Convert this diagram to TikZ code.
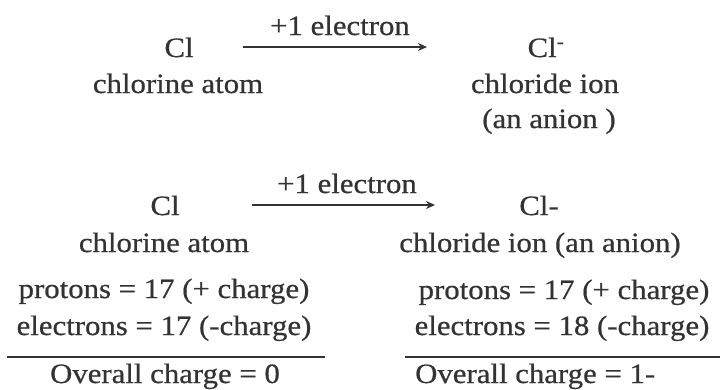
\documentclass[tikz,border=0pt]{standalone}
\usepackage{fontspec}
\setmainfont{Liberation Serif}[FakeStretch=1.1,FakeBold=0.6]
\usetikzlibrary{arrows.meta}
\definecolor{ink}{HTML}{333333}

\begin{document}
\begin{tikzpicture}[x=1pt,y=1pt,
    every node/.style={font=\fontsize{28}{33}\selectfont,text=ink,inner sep=0pt,anchor=base},
    rxn/.style={-{Stealth[length=9pt,width=8pt]},line width=2pt,draw=ink},
    rule/.style={line width=1.8pt,draw=ink}]
    \useasboundingbox (0,0) rectangle (720,-389);
    % upper scheme
    \node (clA) at (179,-57) {Cl};
    \node (atomA) at (178,-93) {chlorine atom};
    \node (ionA) at (546,-57) {Cl\textsuperscript{-}};
    \node (ionnameA) at (545,-93) {chloride ion};
    \node (anionA) at (549,-128) {(an anion )};
    \coordinate (arAs) at (243,-47);
    \coordinate (arAe) at (427,-47);
    \draw[rxn] (arAs) -- (arAe);
    \node (gainA) at (340,-35) {+1 electron};
    % lower scheme
    \node (clB) at (165,-215) {Cl};
    \node (atomB) at (164,-252) {chlorine atom};
    \node (ionB) at (539,-215) {Cl-};
    \node (ionnameB) at (540,-252) {chloride ion (an anion)};
    \coordinate (arBs) at (252,-205);
    \coordinate (arBe) at (435,-205);
    \draw[rxn] (arBs) -- (arBe);
    \node (gainB) at (347,-193) {+1 electron};
    % charge count, atom
    \node (protA) at (164,-298) {protons = 17 (+ charge)};
    \node (elecA) at (164,-335) {electrons = 17 (-charge)};
    \coordinate (ruleAs) at (7,-357);
    \coordinate (ruleAe) at (325,-357);
    \draw[rule] (ruleAs) -- (ruleAe);
    \node (totA) at (165,-383) {Overall charge = 0};
    % charge count, ion
    \node (protB) at (564,-299) {protons = 17 (+ charge)};
    \node (elecB) at (562,-335) {electrons = 18 (-charge)};
    \coordinate (ruleBs) at (405,-357);
    \coordinate (ruleBe) at (720,-357);
    \draw[rule] (ruleBs) -- (ruleBe);
    \node[anchor=base west] (totB) at (415,-383) {Overall charge = 1-};
\end{tikzpicture}
\end{document}
